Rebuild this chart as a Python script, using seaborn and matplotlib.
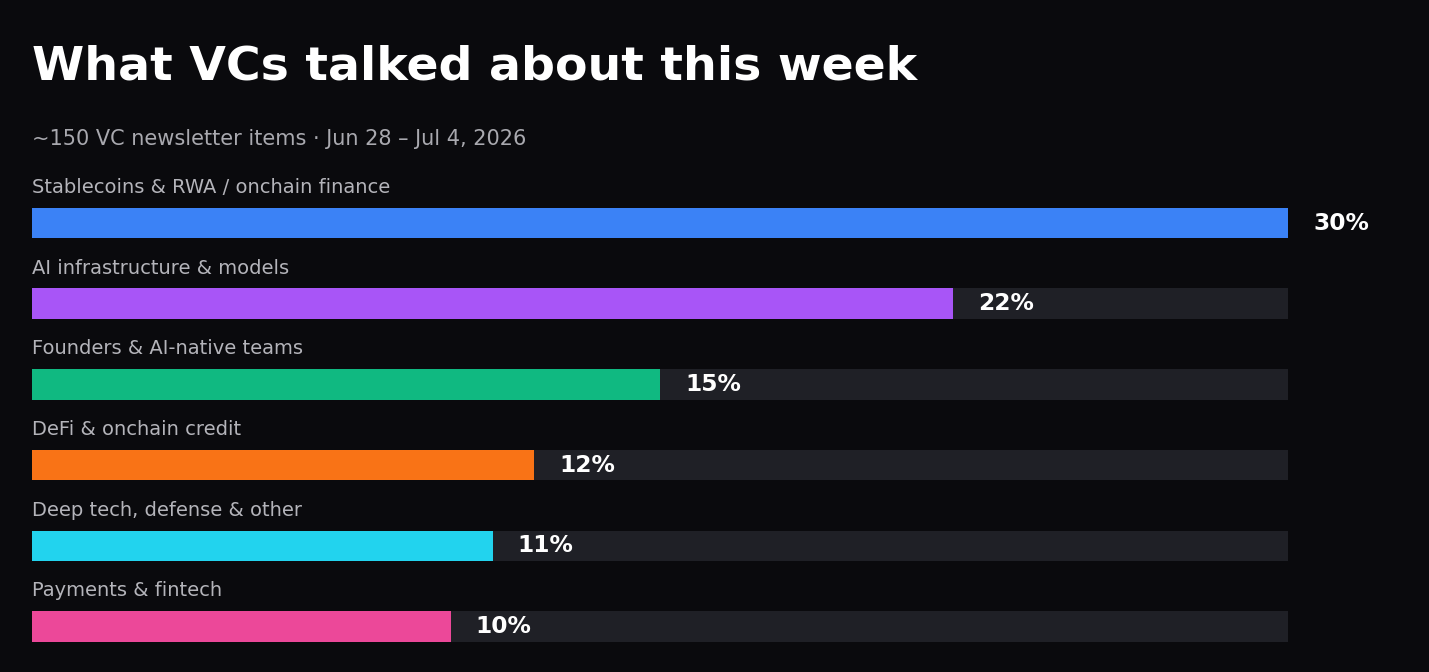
import matplotlib
matplotlib.use("Agg")
import matplotlib.pyplot as plt
import matplotlib.transforms as mtransforms
import seaborn as sns
import pandas as pd

categories = [
    "Stablecoins & RWA / onchain finance",
    "AI infrastructure & models",
    "Founders & AI-native teams",
    "DeFi & onchain credit",
    "Deep tech, defense & other",
    "Payments & fintech",
]
values = [30, 22, 15, 12, 11, 10]
value_labels = ["30%", "22%", "15%", "12%", "11%", "10%"]
colors = ["#3b82f6", "#a855f7", "#10b981", "#f97316", "#22d3ee", "#ec4899"]
track_max = 30

title = "What VCs talked about this week"
subtitle = "~150 VC newsletter items \u00b7 Jun 28 \u2013 Jul 4, 2026"

BG = "#0a0a0d"
TRACK = "#1f2026"

sns.set_theme(style="dark")
plt.rcParams["font.family"] = ["DejaVu Sans"]

W, H = 1429, 672
fig = plt.figure(figsize=(W / 100, H / 100), dpi=100, facecolor=BG)

row = 80.7
c0 = 223.0
top_px = c0 - row / 2
bot_px = c0 + row * 5.5
ax = fig.add_axes([32 / W, 1 - bot_px / H, (1288 - 32) / W, (bot_px - top_px) / H])
ax.set_facecolor(BG)

df = pd.DataFrame({"category": categories, "value": values, "track": [track_max] * len(values)})
bw = 30.5 / row

sns.barplot(data=df, x="track", y="category", color=TRACK, orient="h",
            width=bw, ax=ax, saturation=1, linewidth=0, edgecolor="none")
sns.barplot(data=df, x="value", y="category", hue="category", palette=colors,
            orient="h", width=bw, ax=ax, legend=False, saturation=1,
            linewidth=0, edgecolor="none")

ax.set_xlim(0, track_max)
ax.set_ylim(len(categories) - 0.5, -0.5)
ax.set_xticks([])
ax.set_yticks([])
ax.set_xlabel("")
ax.set_ylabel("")
for s in ax.spines.values():
    s.set_visible(False)
ax.grid(False)

off = mtransforms.offset_copy(ax.transData, fig=fig, x=25, y=0, units="dots")
for i, (cat, v, lab) in enumerate(zip(categories, values, value_labels)):
    ax.text(0, i - 0.372, cat, color="#b4b4ba", fontsize=14, va="baseline",
            ha="left", clip_on=False)
    ax.text(v, i, lab, transform=off, color="white", fontsize=16.8,
            fontweight="bold", va="center", ha="left", clip_on=False)

fig.text(32 / W, 1 - 80 / H, title, color="white", fontsize=34.1,
         fontweight="bold", va="baseline", ha="left")
fig.text(32 / W, 1 - 145 / H, subtitle, color="#a9a9af", fontsize=15,
         va="baseline", ha="left")

fig.savefig("out.png", dpi=100, facecolor=BG)
